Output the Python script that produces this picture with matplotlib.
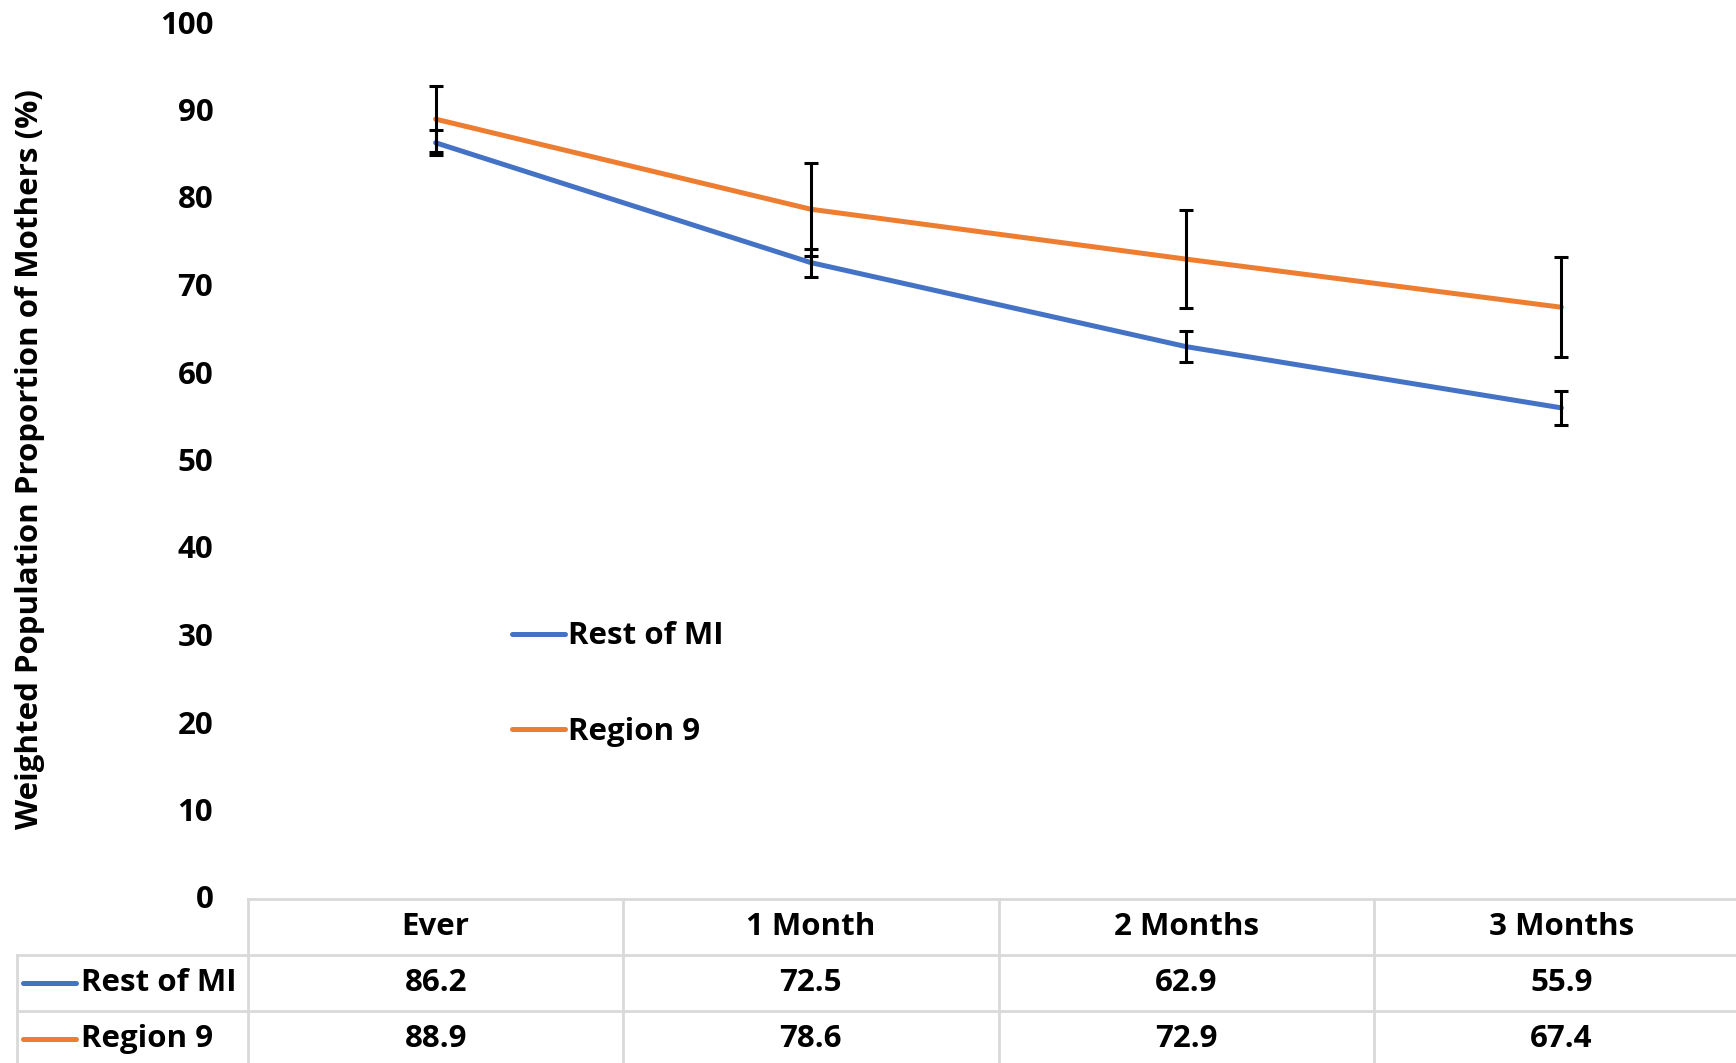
import numpy as np
import matplotlib
matplotlib.use("Agg")
import matplotlib.pyplot as plt
from matplotlib.lines import Line2D
from matplotlib.transforms import blended_transform_factory

plt.rcParams['font.family'] = ['Open Sans', 'DejaVu Sans']
plt.rcParams['font.weight'] = 'bold'

# -----------------------------
# DATA
# -----------------------------
categories = ["Ever", "1 Month", "2 Months", "3 Months"]
series_names = ["Rest of MI", "Region 9"]
rest_of_mi = [86.2, 72.5, 62.9, 55.9]
region_9 = [88.9, 78.6, 72.9, 67.4]
rest_err = [1.4, 1.6, 1.8, 1.9]
region_err = [3.8, 5.3, 5.6, 5.7]

BLUE = "#4472C4"
ORANGE = "#ED7D31"
GRID = "#D9D9D9"
FS = 22.5

W, H = 1736, 1063
fig = plt.figure(figsize=(W / 100, H / 100), dpi=100)


def fx(px):
    return px / W


def fy(py):
    return 1 - py / H


# plot area in pixel terms (right edge runs a bit past the figure, as in the source)
left_px, right_px, top_px, bottom_px = 248, 1749, 22, 897
ax = fig.add_axes([fx(left_px), fy(bottom_px), fx(right_px - left_px), (bottom_px - top_px) / H])

x = np.arange(len(categories))
colors = [BLUE, ORANGE]
for vals, errs, c, name in zip([rest_of_mi, region_9], [rest_err, region_err], colors, series_names):
    ax.plot(x, vals, color=c, lw=3.6, solid_capstyle="round", label=name, zorder=2)
    ax.errorbar(x, vals, yerr=errs, fmt="none", ecolor="black", elinewidth=2.2,
                capsize=5, capthick=2.2, zorder=3)

ax.set_xlim(-0.5, len(categories) - 0.5)
ax.set_ylim(0, 100)
ax.set_yticks(np.arange(0, 101, 10))
ax.tick_params(axis="y", length=0, pad=25, labelsize=FS)
ax.set_xticks([])
for s in ax.spines.values():
    s.set_visible(False)

ax.legend(loc="upper left", bbox_to_anchor=((484 - left_px) / (right_px - left_px), 0.347),
          frameon=False, fontsize=FS, handlelength=1.7, handletextpad=0.1,
          labelspacing=2.1)

fig.text(fx(30), fy((top_px + bottom_px) / 2), "Weighted Population Proportion of Mothers (%)",
         rotation=90, ha="center", va="center", fontsize=FS, fontweight="bold")

# -----------------------------
# DATA TABLE UNDER THE CHART
# -----------------------------
tr = blended_transform_factory(ax.transData, fig.transFigure)
row_tops = [899, 955, 1011, 1067]
tbl_left = 17

# horizontal lines
fig.add_artist(Line2D([fx(left_px), fx(W)], [fy(row_tops[0])] * 2, color=GRID, lw=2))
for yy in row_tops[1:]:
    fig.add_artist(Line2D([fx(tbl_left), fx(W)], [fy(yy)] * 2, color=GRID, lw=2))
# vertical lines
fig.add_artist(Line2D([fx(tbl_left)] * 2, [fy(row_tops[1]), fy(H + 5)], color=GRID, lw=2))
for b in np.arange(len(categories)) - 0.5:
    ax.add_artist(Line2D([b, b], [fy(row_tops[0]), fy(H + 5)], color=GRID, lw=2,
                         transform=tr, clip_on=False))

# header
for i, cat in enumerate(categories):
    fig.text(i, fy((row_tops[0] + row_tops[1]) / 2), cat, transform=tr,
             ha="center", va="center", fontsize=FS, fontweight="bold")

# rows
for r, (name, vals, c) in enumerate(zip(series_names, [rest_of_mi, region_9], colors)):
    yc = fy((row_tops[r + 1] + row_tops[r + 2]) / 2)
    fig.add_artist(Line2D([fx(23), fx(76)], [yc, yc], color=c, lw=3.6, solid_capstyle="round"))
    fig.text(fx(81), yc, name, ha="left", va="center", fontsize=FS, fontweight="bold")
    for i, v in enumerate(vals):
        fig.text(i, yc, f"{v:.1f}", transform=tr, ha="center", va="center",
                 fontsize=FS, fontweight="bold")

fig.savefig("out.png", dpi=100, facecolor="white")
